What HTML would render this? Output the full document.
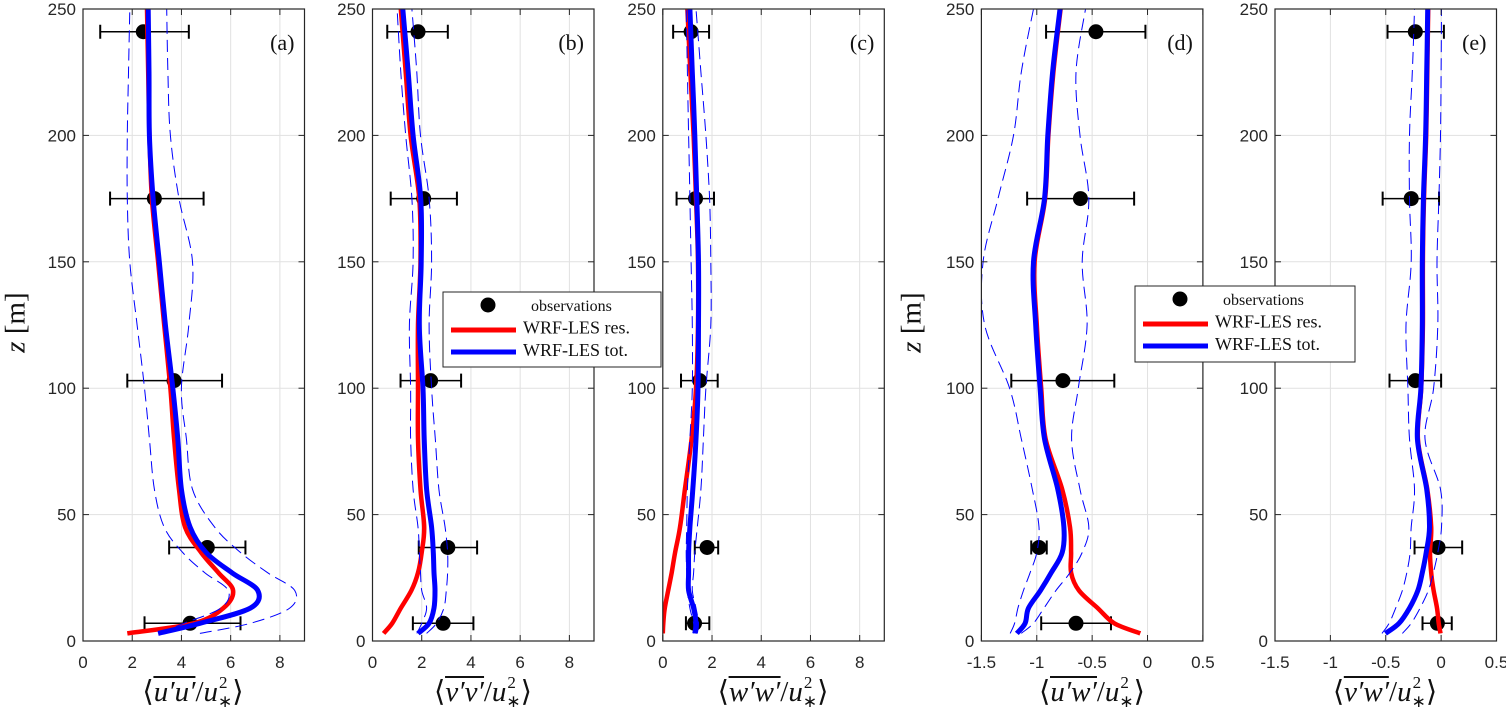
<!DOCTYPE html>
<html><head><meta charset="utf-8">
<style>
body{margin:0;background:#fff;width:1506px;height:715px;overflow:hidden;position:relative;font-family:"Liberation Sans",sans-serif}
svg{position:absolute;left:0;top:0}
.xl{position:absolute;top:676px;font-family:"Liberation Serif",serif;font-size:29px;line-height:1;white-space:nowrap;transform:translateX(-50%);color:#111}
.ov{display:inline-block;border-top:2.5px solid #111;font-style:italic;padding-top:0px;line-height:1}
.it{font-style:italic}
.sup{position:relative;font-size:17px;display:inline-block;width:0;top:-13px;left:1px}
.sub{position:relative;font-size:17px;display:inline-block;top:6px;left:0px}
.yl{position:absolute;font-family:"Liberation Serif",serif;font-size:29px;transform:rotate(-90deg);transform-origin:center;white-space:nowrap;color:#111}
</style></head><body>
<svg id="chart" width="1506" height="715" xmlns="http://www.w3.org/2000/svg"></svg>
<div class="xl" style="left:193px">⟨<span class="ov">u′u′</span>/<span class="it">u</span><span class="sup">2</span><span class="sub">∗</span>⟩</div>
<div class="xl" style="left:483px">⟨<span class="ov">v′v′</span>/<span class="it">u</span><span class="sup">2</span><span class="sub">∗</span>⟩</div>
<div class="xl" style="left:773px">⟨<span class="ov">w′w′</span>/<span class="it">u</span><span class="sup">2</span><span class="sub">∗</span>⟩</div>
<div class="xl" style="left:1092px">⟨<span class="ov">u′w′</span>/<span class="it">u</span><span class="sup">2</span><span class="sub">∗</span>⟩</div>
<div class="xl" style="left:1385px">⟨<span class="ov">v′w′</span>/<span class="it">u</span><span class="sup">2</span><span class="sub">∗</span>⟩</div>
<div class="yl" style="left:-14px;top:306px"><span class="it">z</span> [m]</div>
<div class="yl" style="left:882px;top:306px"><span class="it">z</span> [m]</div>
<script>
const zLevels=[3,7,13,20,27,35,45,60,80,100,125,150,175,200,225,250];
const obsZ=[241,175,103,37,7];
const yTicks=[0,50,100,150,200,250];
const xTicksPos=[0,2,4,6,8];
const xTicksSigned=[-1.5,-1,-0.5,0,0.5];
const aTot=[3.05,4.75,6.8,7.1,6.05,5.0,4.35,4.0,3.85,3.65,3.35,3.1,2.85,2.7,2.68,2.65];
const aRes=[1.8,4.5,5.7,6.1,5.5,4.8,4.15,3.9,3.7,3.55,3.3,3.05,2.8,2.7,2.65,2.6];
const aLo=[3.1,4.1,5.6,5.9,4.95,4.05,3.3,2.9,2.7,2.5,2.2,1.9,1.8,1.8,1.85,1.9];
const aHi=[4.75,6.8,8.4,8.6,7.5,6.4,5.35,4.45,4.2,4.0,4.3,4.45,3.9,3.55,3.45,3.4];
const aObs=[2.45,2.9,3.7,5.05,4.35];
const aErrLo=[0.7,1.1,1.8,3.5,2.5];
const aErrHi=[4.3,4.9,5.65,6.6,6.4];
const bTot=[1.85,2.3,2.5,2.54,2.5,2.47,2.4,2.2,2.1,2.05,1.9,1.98,1.96,1.65,1.45,1.23];
const bRes=[0.45,0.8,1.15,1.58,1.85,2.0,2.1,1.95,1.85,1.85,1.85,1.95,1.9,1.55,1.35,1.15];
const bLo=[1.8,2.0,2.2,2.0,1.95,1.9,1.85,1.65,1.55,1.55,1.5,1.65,1.6,1.35,1.15,1.0];
const bHi=[2.2,2.6,2.9,3.0,3.05,3.05,2.95,2.7,2.55,2.4,2.3,2.4,2.3,1.95,1.8,1.6];
const bObs=[1.85,2.08,2.36,3.06,2.87];
const bErrLo=[0.6,0.74,1.14,1.88,1.64];
const bErrHi=[3.06,3.43,3.6,4.25,4.1];
const cTot=[1.3,1.35,1.25,1.05,1.05,1.05,1.1,1.22,1.35,1.43,1.45,1.45,1.38,1.3,1.2,1.1];
const cRes=[0,0.02,0.08,0.22,0.36,0.5,0.7,0.9,1.17,1.35,1.43,1.43,1.35,1.25,1.12,1.0];
const cLo=[1.25,1.25,1.1,1.0,0.97,0.95,0.97,1.0,1.1,1.2,1.2,1.15,1.1,1.05,1.0,0.95];
const cHi=[1.4,1.45,1.35,1.2,1.25,1.3,1.4,1.55,1.65,1.75,1.95,1.95,1.9,1.75,1.55,1.35];
const cObs=[1.15,1.33,1.5,1.8,1.29];
const cErrLo=[0.42,0.56,0.74,1.3,0.94];
const cErrHi=[1.88,2.08,2.23,2.25,1.89];
const dTot=[-1.18,-1.105,-1.075,-0.966,-0.87,-0.77,-0.755,-0.81,-0.93,-0.97,-1.01,-1.03,-0.93,-0.9,-0.857,-0.79];
const dRes=[-0.065,-0.30,-0.45,-0.62,-0.69,-0.69,-0.70,-0.77,-0.92,-0.96,-1.0,-1.02,-0.925,-0.895,-0.85,-0.785];
const dLo=[-1.24,-1.2,-1.17,-1.12,-1.06,-1.0,-0.98,-1.04,-1.14,-1.245,-1.47,-1.485,-1.35,-1.21,-1.14,-1.03];
const dHi=[-1.14,-1.03,-0.935,-0.826,-0.70,-0.59,-0.53,-0.61,-0.686,-0.625,-0.546,-0.59,-0.53,-0.61,-0.646,-0.56];
const dObs=[-0.466,-0.606,-0.764,-0.98,-0.646];
const dErrLo=[-0.916,-1.087,-1.23,-1.05,-0.96];
const dErrHi=[-0.019,-0.121,-0.30,-0.91,-0.33];
const eTot=[-0.503,-0.38,-0.286,-0.21,-0.17,-0.135,-0.105,-0.13,-0.214,-0.183,-0.17,-0.17,-0.16,-0.14,-0.13,-0.121];
const eRes=[-0.006,-0.022,-0.037,-0.068,-0.09,-0.1,-0.09,-0.125,-0.21,-0.18,-0.165,-0.165,-0.155,-0.135,-0.125,-0.117];
const eLo=[-0.534,-0.47,-0.41,-0.35,-0.31,-0.28,-0.27,-0.24,-0.286,-0.30,-0.317,-0.27,-0.286,-0.286,-0.26,-0.24];
const eHi=[-0.35,-0.27,-0.19,-0.115,-0.07,-0.03,0.003,-0.006,-0.146,-0.068,-0.03,-0.037,-0.02,-0.006,0.0,0.003];
const eObs=[-0.233,-0.27,-0.233,-0.028,-0.034];
const eErrLo=[-0.484,-0.528,-0.466,-0.24,-0.168];
const eErrHi=[0.025,-0.019,0.0,0.19,0.096];

const NS="http://www.w3.org/2000/svg";
const svg=document.getElementById('chart');
const TOP=9,BOT=641,W=221.5;
function mk(tag,attrs,parent){const e=document.createElementNS(NS,tag);for(const k in attrs)e.setAttribute(k,attrs[k]);(parent||svg).appendChild(e);return e;}
function yS(z){return BOT-(z/250)*(BOT-TOP);}
function smooth(p){
 let d='M'+p[0][0].toFixed(1)+','+p[0][1].toFixed(1);
 for(let i=0;i<p.length-1;i++){
  const p0=p[i-1]||p[i],p1=p[i],p2=p[i+1],p3=p[i+2]||p2;
  const c1=[p1[0]+(p2[0]-p0[0])/6,p1[1]+(p2[1]-p0[1])/6];
  const c2=[p2[0]-(p3[0]-p1[0])/6,p2[1]-(p3[1]-p1[1])/6];
  d+=' C'+c1[0].toFixed(1)+','+c1[1].toFixed(1)+' '+c2[0].toFixed(1)+','+c2[1].toFixed(1)+' '+p2[0].toFixed(1)+','+p2[1].toFixed(1);
 }
 return d;
}
const panels=[
 {id:'a',left:83,min:0,max:9,ticks:xTicksPos,tot:aTot,res:aRes,lo:aLo,hi:aHi,obs:aObs,el:aErrLo,eh:aErrHi},
 {id:'b',left:372.5,min:0,max:9,ticks:xTicksPos,tot:bTot,res:bRes,lo:bLo,hi:bHi,obs:bObs,el:bErrLo,eh:bErrHi},
 {id:'c',left:662.8,min:0,max:9,ticks:xTicksPos,tot:cTot,res:cRes,lo:cLo,hi:cHi,obs:cObs,el:cErrLo,eh:cErrHi},
 {id:'d',left:981.4,min:-1.5,max:0.5,ticks:xTicksSigned,tot:dTot,res:dRes,lo:dLo,hi:dHi,obs:dObs,el:dErrLo,eh:dErrHi},
 {id:'e',left:1275,min:-1.5,max:0.5,ticks:xTicksSigned,tot:eTot,res:eRes,lo:eLo,hi:eHi,obs:eObs,el:eErrLo,eh:eErrHi}
];
panels.forEach(p=>{
 const xS=v=>p.left+(v-p.min)/(p.max-p.min)*W;
 const g=mk('g',{});
 
 
 const defs=mk('clipPath',{id:'clip'+p.id},g);
 mk('rect',{x:p.left,y:TOP,width:W,height:BOT-TOP},defs);
 p.ticks.forEach(t=>{const l=mk('line',{x1:xS(t),x2:xS(t),y1:TOP,y2:BOT,stroke:'#e1e1e1','stroke-width':1},g);
  });
 yTicks.forEach(t=>{const l=mk('line',{x1:p.left,x2:p.left+W,y1:yS(t),y2:yS(t),stroke:'#e1e1e1','stroke-width':1},g);
  });
 const plot=mk('g',{'clip-path':'url(#clip'+p.id+')'},g);
 p.obs.forEach((v,i)=>{
  const y=yS(obsZ[i]);
  const eb=mk('g',{stroke:'#000','stroke-width':1.5},plot);
  
  mk('line',{x1:xS(p.el[i]),x2:xS(p.eh[i]),y1:y,y2:y},eb);
  mk('line',{x1:xS(p.el[i]),x2:xS(p.el[i]),y1:y-7,y2:y+7,'stroke-width':2},eb);
  mk('line',{x1:xS(p.eh[i]),x2:xS(p.eh[i]),y1:y-7,y2:y+7,'stroke-width':2},eb);
  const c=mk('circle',{cx:xS(v),cy:y,r:7.5,fill:'#000'},plot);
  
 });
 const pts=arr=>arr.map((v,i)=>[xS(v),yS(zLevels[i])]);
 const r=mk('path',{d:smooth(pts(p.res)),fill:'none',stroke:'#ff0000','stroke-width':4.5,'stroke-linejoin':'round'},plot);
 
 const b=mk('path',{d:smooth(pts(p.tot)),fill:'none',stroke:'#0000ff','stroke-width':5,'stroke-linejoin':'round'},plot);
 
 [p.lo,p.hi].forEach((a,k)=>{const d=mk('path',{d:smooth(pts(a)),fill:'none',stroke:'#0000ff','stroke-width':1,'stroke-dasharray':'12,6'},plot);
  });
 const box=mk('rect',{x:p.left,y:TOP,width:W,height:BOT-TOP,fill:'none',stroke:'#262626','stroke-width':1.2},g);
 
 p.ticks.forEach(t=>{mk('line',{x1:xS(t),x2:xS(t),y1:BOT,y2:BOT-6,stroke:'#262626'},g);mk('line',{x1:xS(t),x2:xS(t),y1:TOP,y2:TOP+6,stroke:'#262626'},g);
  const tx=mk('text',{x:xS(t),y:668,'text-anchor':'middle','font-size':17,fill:'#262626','font-family':'Liberation Sans, sans-serif'},g);
  tx.textContent=String(t);});
 yTicks.forEach(t=>{mk('line',{x1:p.left,x2:p.left+6,y1:yS(t),y2:yS(t),stroke:'#262626'},g);mk('line',{x1:p.left+W,x2:p.left+W-6,y1:yS(t),y2:yS(t),stroke:'#262626'},g);
  const tx=mk('text',{x:p.left-7,y:yS(t)+6,'text-anchor':'end','font-size':17,fill:'#262626','font-family':'Liberation Sans, sans-serif'},g);
  tx.textContent=String(t);});
 const lab=mk('text',{x:p.left+W-10,y:50,'text-anchor':'end','font-size':22,fill:'#111','font-family':'Liberation Serif, serif'},g);
 lab.textContent='('+p.id+')';
});
function legend(x,y,w,h,name){
 const g=mk('g',{});
 
 
 mk('rect',{x:x,y:y,width:w,height:h,fill:'#fff',stroke:'#262626','stroke-width':1},g);
 mk('circle',{cx:x+45,cy:y+13,r:7.5,fill:'#000'},g);
 mk('line',{x1:x+8,x2:x+73,y1:y+38,y2:y+38,stroke:'#ff0000','stroke-width':5},g);
 mk('line',{x1:x+8,x2:x+73,y1:y+60,y2:y+60,stroke:'#0000ff','stroke-width':5},g);
 const labels=['observations','WRF-LES res.','WRF-LES tot.'];
 labels.forEach((t,i)=>{const tx=mk('text',{x:i?x+80:x+88,y:y+19+i*22.5,'font-size':i?18:16,fill:'#111','font-family':'Liberation Serif, serif'},g);tx.textContent=t;
  });
}
legend(443,292,218,75,'legend-b');
legend(1135,286,220,76,'legend-d');
</script>
</body></html>
